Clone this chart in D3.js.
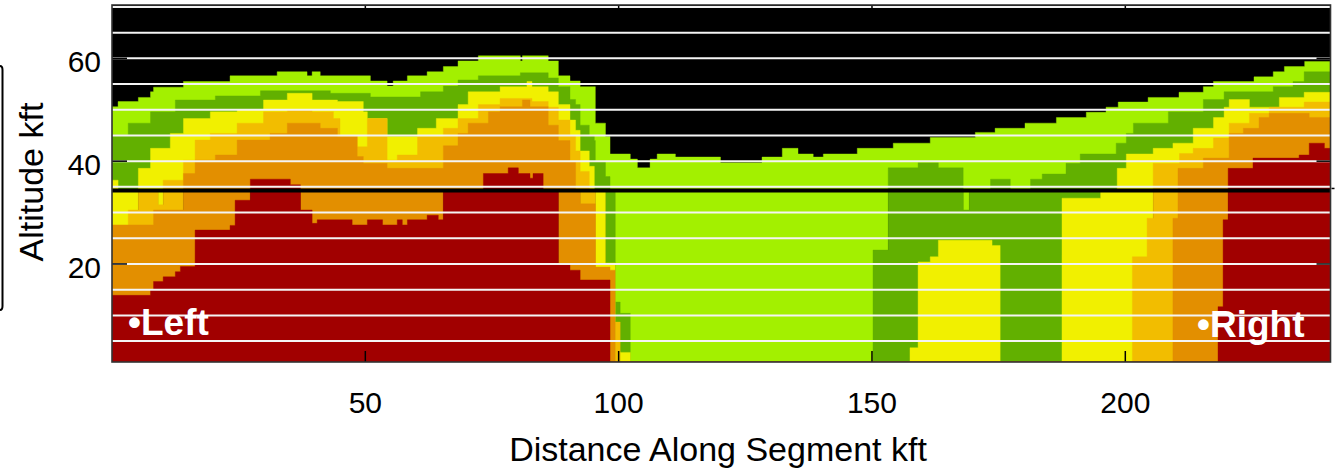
<!DOCTYPE html>
<html lang="en">
<head>
<meta charset="UTF-8">
<title>Altitude Cross-Section</title>
<script src="https://cdn.jsdelivr.net/npm/d3@7"></script>
<style>
  body { margin: 0; background: #fff; }
  svg { display: block; font-family: "Liberation Sans", Arial, sans-serif; }
</style>
</head>
<body>
<svg id="chart" width="1336" height="476"></svg>
<script>
// colours of the nested layers, outermost first, core last
const layerColors = ["#a3f000", "#62b000", "#f1f000", "#f2bd00", "#e38f00", "#a10000"];

// black split line altitude (kft) and axis extent
const splitAlt = 34.3;
const distMax = 240.5;
const xTicks = [50, 100, 150, 200];
const yTicks = [20, 40, 60];
const gridAlts = [5, 10, 15, 20, 25, 30, 35, 40, 45, 50, 55, 60, 65, 70];

// above the split line: top altitude of each layer, [distance kft, altitude kft], step after
const upperLightGreen = [[0,50.6],[1.2,51.6],[5.2,52.4],[7.6,53.5],[8.2,54.4],[14.1,55.5],[23.3,56.6],[32.6,57.4],[38.5,56.6],[39.5,57.4],[41.1,56.6],[51,55.6],[54.3,54.6],[55.5,55.6],[58.3,56.6],[62.2,57.4],[65.4,58.4],[68.3,59.5],[72.3,60.5],[80.6,59.5],[81,60.5],[86.1,59.5],[88.1,56.6],[90.4,55.6],[92.4,54.5],[95.4,47.4],[97.4,44.8],[98.3,41.4],[102.3,40.4],[103.7,38.7],[106.2,40.4],[107.6,41.4],[111.2,40.8],[120.1,39.7],[128.3,40.8],[132.3,42.5],[135.4,41.4],[138.4,40.8],[140.4,41.4],[147.1,42.5],[154.2,43.5],[161.5,44.6],[170.4,45.6],[174.3,46.4],[180.2,47.4],[186.4,48.5],[192.3,49.5],[196.2,50.5],[198.6,51.5],[204.5,52.4],[210.6,53.4],[215.4,54.5],[217.4,55.5],[225.4,56.4],[229.2,57.4],[231.4,58.4],[235.4,59.4]];
const upperGreen = [[0,45.1],[3.2,47.4],[7.6,49.6],[12.5,51.9],[20.4,52.7],[29.3,53.7],[43.1,53.2],[51,52.5],[60.9,53.5],[65.4,54.6],[68.3,55.8],[72.3,56.6],[80.6,57.2],[86.1,56.2],[88.1,54.5],[90.4,52],[91.5,51],[92.4,47],[94.2,45],[95.2,44],[95.4,40],[97.4,37],[98.3,0],[153.2,38.7],[159.1,39.7],[163.1,38.7],[168,0],[173.4,36.5],[177.3,0],[181.3,36.5],[183.6,37.5],[188.3,39.6],[191.1,41.4],[198.2,43.5],[200.2,45.4],[201.6,47.4],[208.5,49.6],[215.4,52],[219.5,53.5],[229.2,54.5],[233.1,55.5],[235.3,57.4]];
const upperYellow = [[0,36.3],[1.2,0],[5.2,38.6],[7.6,42.5],[11.5,45.4],[14.1,48.3],[19.4,49.6],[24.7,50.0],[29.9,51.9],[34.6,53.2],[39.5,51.9],[44.5,51.6],[49.6,49.6],[50.4,48.3],[54.3,44.8],[60.3,46.4],[64,48.3],[68.3,51.0],[70.3,53.5],[76.6,54.5],[81.9,55.5],[82.9,54.5],[86.1,53.5],[88.1,51],[90.4,48],[91.5,46],[92.4,42],[94.2,39],[95.2,0],[198.4,38.6],[200.2,41.4],[205.5,42.5],[209.4,43.5],[213.4,46.4],[217.4,48.5],[219.5,50.5],[220.5,52],[224.5,50.5],[230.4,52.4],[235.3,53.4]];
const upperLightOrange = [[0,0],[10.1,36.3],[14.1,40.2],[16.4,44.1],[19.4,45.4],[24.7,47.4],[29.9,49.6],[34.6,50.0],[39.5,49.6],[43.7,48.3],[45,44.8],[48.4,42.8],[50.4,48.3],[54.3,40.2],[56.3,41.2],[60.3,44.8],[65.4,46.4],[68.3,48.3],[72.3,51.0],[76.6,52.2],[82.9,51.6],[86.1,50.5],[88.1,48],[90.4,45],[91.5,42],[92.4,38],[94.2,0],[205.5,39.6],[210.7,41.5],[213.4,42.5],[217.4,44.5],[220.5,47.4],[224.5,49.3],[228.4,50.5],[235.3,51.5]];
const upperOrange = [[0,0],[14.1,37.6],[16.4,40.2],[20.4,41.2],[24.7,44.1],[31.2,45.4],[34.6,47.4],[41.1,46.4],[44.5,44.8],[48.4,40.9],[49.6,39.6],[54.3,38.6],[65.4,43],[68.3,45.4],[70.3,47.4],[74.3,49.6],[76.6,50.6],[81,51.9],[82.5,50.6],[86.1,47],[88.1,44],[90.4,40],[91.5,0],[210.4,38.6],[215.4,40.6],[220.5,45.4],[223.3,46.4],[226.4,48.5],[228.4,49.3],[236.3,48.5]];
const upperRed = [[0,0],[27.3,36.5],[35.2,35.4],[37.2,0],[73.3,37.6],[78.2,38.7],[80.2,37.6],[82.5,36.7],[83.1,37.6],[85.1,0],[220.3,38.6],[225.2,40.6],[234.3,41.2],[236.3,43.5],[239.3,42.5]];

// below the split line: top altitude of each layer from the ground up
const lowerLightGreen = [[0,0],[99.3,34.3],[153.2,0],[168,34.3],[169.2,0]];
const lowerGreen = [[0,0],[97.4,34.3],[99.3,12.6],[100.3,10.4],[102.3,0],[150.2,22.7],[153.2,34.3],[168,30.5],[169.2,34.3],[195.1,0]];
const lowerYellow = [[0,34.3],[5.2,0],[9.1,34.3],[10.1,0],[95.4,34.3],[97.4,20.2],[99.3,0],[100.3,2.8],[102.3,0],[157.5,3.7],[159.1,20.4],[161.5,21.4],[163.1,24.6],[173.7,23.6],[175.3,0],[187.5,32.8],[195.1,34.3],[205.5,0]];
const lowerLightOrange = [[0,0],[3.2,30.5],[5.2,34.3],[9.1,31.5],[10.1,34.3],[14.1,0],[92.4,34.3],[95.4,0],[99.3,8.7],[100.3,0],[201.4,21.4],[204.3,28.9],[205.5,34.3],[210.4,0]];
const lowerOrange = [[0,27.6],[8.2,30.5],[14.1,34.3],[27.3,0],[37.2,34.3],[65.4,0],[88.1,34.3],[92.4,31.7],[95.4,19.4],[98.3,18.8],[99.3,0],[209.4,28.9],[210.4,34.3],[220.3,0]];
const lowerRed = [[0,13.9],[7.6,15.0],[8.2,16.6],[10.1,17.5],[12.5,18.5],[13.5,19.5],[16.4,26.6],[23.3,27.5],[24.3,32.4],[27.3,34.3],[37.2,30.5],[39.5,27.9],[40.5,28.6],[47.4,27.6],[50.4,28.6],[53.4,27.6],[56.3,28.6],[57.3,27.6],[58.3,28.6],[62.2,29.5],[64.4,28.6],[65.4,34.3],[88.1,19.8],[90.4,18.8],[92.4,16.9],[98.3,0],[218.3,11.7],[219.3,28.6],[220.3,34.3]];

const upperLayers = [upperLightGreen, upperGreen, upperYellow, upperLightOrange, upperOrange, upperRed];
const lowerLayers = [lowerLightGreen, lowerGreen, lowerYellow, lowerLightOrange, lowerOrange, lowerRed];

const svg = d3.select("#chart");
const plot = { left: 112, right: 1330.5, top: 5, bottom: 362 };

const x = d3.scaleLinear().domain([0, distMax]).range([plot.left, plot.right]);
const y = d3.scaleLinear().domain([0.93, 70.38]).range([plot.bottom, plot.top]);
const altMin = y.domain()[0];

svg.append("clipPath").attr("id", "plotClip")
  .append("rect")
  .attr("x", plot.left).attr("y", plot.top)
  .attr("width", plot.right - plot.left).attr("height", plot.bottom - plot.top);

const g = svg.append("g").attr("clip-path", "url(#plotClip)");

g.append("rect")
  .attr("x", plot.left).attr("y", plot.top)
  .attr("width", plot.right - plot.left).attr("height", plot.bottom - plot.top)
  .attr("fill", "#000");

// close the last step at the right edge
const withEnd = steps => steps.concat([[distMax, steps[steps.length - 1][1]]]);

const upperArea = d3.area()
  .curve(d3.curveStepAfter)
  .x(d => x(d[0]))
  .y0(y(splitAlt))
  .y1(d => y(Math.max(d[1], splitAlt)));

const lowerArea = d3.area()
  .curve(d3.curveStepAfter)
  .x(d => x(d[0]))
  .y0(y(altMin))
  .y1(d => y(Math.max(Math.min(d[1], splitAlt), altMin)));

g.selectAll("path.lower")
  .data(lowerLayers)
  .join("path")
  .attr("class", "lower")
  .attr("d", d => lowerArea(withEnd(d)))
  .attr("fill", (d, i) => layerColors[i])
  .attr("stroke", (d, i) => layerColors[i])
  .attr("stroke-width", 0.4);

g.selectAll("path.upper")
  .data(upperLayers)
  .join("path")
  .attr("class", "upper")
  .attr("d", d => upperArea(withEnd(d)))
  .attr("fill", (d, i) => layerColors[i])
  .attr("stroke", (d, i) => layerColors[i])
  .attr("stroke-width", 0.4);

// white altitude lines
g.selectAll("line.grid")
  .data(gridAlts)
  .join("line")
  .attr("class", "grid")
  .attr("x1", plot.left).attr("x2", plot.right)
  .attr("y1", d => y(d)).attr("y2", d => y(d))
  .attr("stroke", "#f4f4f4")
  .attr("stroke-width", 2);

// thick black split line
g.append("line")
  .attr("x1", plot.left).attr("x2", plot.right)
  .attr("y1", y(splitAlt)).attr("y2", y(splitAlt))
  .attr("stroke", "#000")
  .attr("stroke-width", 4);

// ticks, all pointing inward
const ticks = svg.append("g").attr("stroke", "#000").attr("stroke-width", 1.5);
yTicks.forEach(v => {
  ticks.append("line").attr("x1", plot.left).attr("x2", plot.left + 15).attr("y1", y(v)).attr("y2", y(v));
  ticks.append("line").attr("x1", plot.right - 14).attr("x2", plot.right).attr("y1", y(v)).attr("y2", y(v));
});
xTicks.forEach(v => {
  ticks.append("line").attr("x1", x(v)).attr("x2", x(v)).attr("y1", plot.bottom).attr("y2", plot.bottom - 11);
  ticks.append("line").attr("x1", x(v)).attr("x2", x(v)).attr("y1", plot.top).attr("y2", plot.top + 10);
});
ticks.append("line")
  .attr("x1", plot.right + 1).attr("x2", plot.right + 4)
  .attr("y1", y(splitAlt) - 2).attr("y2", y(splitAlt) - 2);

svg.append("rect")
  .attr("x", plot.left).attr("y", plot.top)
  .attr("width", plot.right - plot.left).attr("height", plot.bottom - plot.top)
  .attr("fill", "none")
  .attr("stroke", "#333")
  .attr("stroke-width", 1.6);

// tick labels
svg.append("g").selectAll("text")
  .data(yTicks)
  .join("text")
  .attr("x", 101)
  .attr("y", d => y(d) + 14)
  .attr("text-anchor", "end")
  .attr("font-size", 30)
  .attr("fill", "#000")
  .text(d => d);

svg.append("g").selectAll("text")
  .data(xTicks)
  .join("text")
  .attr("x", d => x(d))
  .attr("y", 413)
  .attr("text-anchor", "middle")
  .attr("font-size", 30)
  .attr("fill", "#000")
  .text(d => d);

svg.append("text")
  .attr("x", 718)
  .attr("y", 461)
  .attr("text-anchor", "middle")
  .attr("font-size", 34)
  .attr("fill", "#000")
  .text("Distance Along Segment kft");

svg.append("text")
  .attr("transform", "translate(43,182) rotate(-90)")
  .attr("text-anchor", "middle")
  .attr("font-size", 34)
  .attr("fill", "#000")
  .text("Altitude kft");

// end point labels
svg.append("text")
  .attr("x", 128).attr("y", 335)
  .attr("font-size", 37).attr("font-weight", "bold")
  .attr("fill", "#fff")
  .text("\u2022Left");

svg.append("text")
  .attr("x", 1197).attr("y", 337)
  .attr("font-size", 37).attr("font-weight", "bold")
  .attr("fill", "#fff")
  .text("\u2022Right");

// edge of the box on the left margin
svg.append("path")
  .attr("d", "M0,66 Q2.5,66 2.5,70 L2.5,306 Q2.5,310 0,310")
  .attr("fill", "none")
  .attr("stroke", "#000")
  .attr("stroke-width", 2);
</script>
</body>
</html>
